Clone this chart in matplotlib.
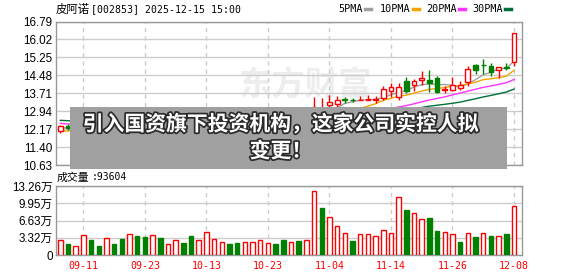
import matplotlib
matplotlib.use("Agg")
import matplotlib.pyplot as plt
import matplotlib.patheffects as pe
from matplotlib.patches import Rectangle
from matplotlib.lines import Line2D
import numpy as np
import pandas as pd

plt.rcParams['font.family'] = ['Liberation Sans', 'Noto Sans CJK SC']

#%% data (hidden candles estimated)
# closes of the 29 sessions before 09-08, only used to seed the moving averages
prior_close = [12.70, 12.85, 12.92, 12.80, 12.75, 12.88, 12.95, 12.78, 12.66, 12.72,
               12.80, 12.68, 12.75, 12.90, 12.82, 12.70, 12.78, 12.65, 12.60, 12.72,
               12.35, 12.10, 11.92, 11.78, 11.85, 12.02, 12.15, 12.28, 12.25]

opens = [12.08, 12.32, 12.20, 12.33, 12.60, 12.46, 12.36, 12.55, 12.45, 12.28,
         12.50, 12.38, 12.22, 12.42, 12.30, 12.40, 12.56, 12.48, 12.30, 12.42,
         12.60, 12.66, 12.74, 12.60, 12.50, 12.56, 12.60, 12.64, 12.70, 12.58,
         12.42, 12.52, 12.38, 12.50, 13.00, 13.21, 13.24, 13.45, 13.43, 13.43,
         13.43, 13.44, 13.50, 13.82, 13.57, 14.24, 14.07, 14.26, 14.28, 14.36,
         13.86, 13.85, 13.93, 14.19, 14.93, 14.93, 14.86, 14.72, 14.83, 15.05]
highs = [12.36, 12.38, 12.40, 12.70, 12.66, 12.50, 12.60, 12.58, 12.48, 12.55,
         12.55, 12.40, 12.45, 12.46, 12.48, 12.66, 12.62, 12.50, 12.46, 12.75,
         12.76, 12.80, 12.76, 12.64, 12.63, 12.68, 12.72, 12.78, 12.73, 12.60,
         12.58, 12.55, 12.50, 13.57, 13.51, 13.64, 13.60, 13.55, 13.51, 13.60,
         13.64, 13.60, 14.03, 14.17, 14.17, 14.40, 14.31, 14.68, 14.71, 14.43,
         14.03, 14.40, 14.24, 14.86, 14.95, 15.17, 15.02, 14.85, 15.00, 16.29]
lows = [12.02, 12.15, 12.12, 12.30, 12.40, 12.32, 12.33, 12.40, 12.25, 12.24,
        12.32, 12.18, 12.20, 12.26, 12.27, 12.38, 12.42, 12.28, 12.27, 12.40,
        12.55, 12.62, 12.55, 12.46, 12.47, 12.52, 12.57, 12.60, 12.52, 12.40,
        12.40, 12.35, 12.36, 12.45, 12.85, 13.14, 13.14, 13.28, 13.34, 13.42,
        13.42, 13.30, 13.43, 13.57, 13.43, 13.71, 13.82, 14.07, 13.78, 13.71,
        13.74, 13.82, 13.85, 14.00, 14.54, 14.54, 14.47, 14.36, 14.72, 14.90]
closes = [12.30, 12.22, 12.35, 12.58, 12.45, 12.38, 12.52, 12.44, 12.30, 12.48,
          12.36, 12.25, 12.40, 12.31, 12.42, 12.55, 12.47, 12.33, 12.41, 12.62,
          12.68, 12.72, 12.60, 12.52, 12.58, 12.63, 12.66, 12.70, 12.58, 12.45,
          12.52, 12.40, 12.46, 13.10, 13.06, 13.35, 13.43, 13.44, 13.42, 13.44,
          13.45, 13.47, 13.88, 13.97, 13.99, 13.82, 14.24, 14.36, 14.17, 13.78,
          13.88, 14.07, 14.06, 14.74, 14.72, 14.92, 14.62, 14.83, 14.81, 16.29]
volumes = [28800, 21100, 17300, 38400, 28800, 17300, 32000, 21100, 30700, 40400,
           36500, 34600, 38400, 32700, 21100, 28800, 23000, 36500, 28800, 44200,
           30700, 25000, 21100, 23000, 25000, 25000, 28800, 23000, 21100, 28800,
           25000, 26900, 28800, 123000, 90300, 73000, 55700, 42300, 26900, 40400,
           40400, 36500, 48000, 42300, 111500, 86500, 80700, 69200, 71100, 46100,
           44200, 40400, 25000, 42300, 34600, 42300, 36500, 36500, 40400, 93604]

date_ticks = [3, 11, 19, 27, 35, 43, 51, 59]
date_labels = ['09-11', '09-23', '10-13', '10-23', '11-04', '11-14', '11-26', '12-08']
price_ticks = [10.63, 11.40, 12.17, 12.94, 13.71, 14.48, 15.25, 16.02, 16.79]
vol_ticks = [0, 33150, 66300, 99450, 132600]
vol_labels = ['0', '3.32万', '6.63万', '9.95万', '13.26万']
ma_windows = [5, 10, 20, 30]
ma_names = ['5PMA', '10PMA', '20PMA', '30PMA']
ma_colors = ['#a0a0a0', '#f5a300', '#ff33ff', '#00703a']

RED = '#ff0000'
GREEN = '#008000'
GRID = '#cccccc'
W, H = 578, 276

#%%
o = np.array(opens); h = np.array(highs); l = np.array(lows); c = np.array(closes)
v = np.array(volumes)
x = np.arange(len(c))
prev = np.concatenate([[prior_close[-1]], c[:-1]])
up = (c > o) | ((c == o) & (c >= prev))
vol_up = c >= prev

fig = plt.figure(figsize=(W / 100, H / 100), dpi=100)
ax = fig.add_axes([56 / W, 1 - 165 / H, 466 / W, 143.5 / H])
axv = fig.add_axes([56 / W, 1 - 255 / H, 466 / W, 69 / H])

for a in (ax, axv):
    a.set_xlim(-0.56, 60.04)
    a.set_xticks(date_ticks)
    a.grid(axis='x', color=GRID, lw=1, ls=(0, (3, 3)))
    a.grid(axis='y', color=GRID, lw=1, ls='-')
    a.set_axisbelow(True)
    a.tick_params(length=0, pad=2.5, labelsize=8.4)
    for s in a.spines.values():
        s.set_color('#999999')
        s.set_linewidth(1)

# watermark
ax.text(0.535, 0.55, '东方财富', transform=ax.transAxes, ha='center', va='center',
        fontsize=24, color='#ededed', fontweight='bold', family='Noto Sans CJK SC', zorder=0)

# price panel
ax.set_ylim(price_ticks[0], price_ticks[-1])
ax.set_yticks(price_ticks)
ax.set_yticklabels(['%.2f' % t for t in price_ticks])
ax.tick_params(axis='x', labelbottom=False)

full = pd.Series(prior_close + closes)
for w, col in zip(ma_windows, ma_colors):
    ma = full.rolling(w).mean().iloc[len(prior_close):].values
    ax.plot(x, ma, color=col, lw=1, zorder=2)

bw = 0.62
body_lo = np.minimum(o, c)
body_hi = np.maximum(o, c)
body_h = np.maximum(body_hi - body_lo, 0.004)
# wicks
ax.vlines(x[~up], l[~up], h[~up], color=GREEN, lw=1, zorder=3)
ax.vlines(x[up], l[up], body_lo[up], color=RED, lw=1, zorder=3)
ax.vlines(x[up], body_hi[up], h[up], color=RED, lw=1, zorder=3)
ax.bar(x[up], body_h[up], bw, bottom=body_lo[up], facecolor='white', edgecolor=RED, lw=1, zorder=4)
ax.bar(x[~up], body_h[~up], bw, bottom=body_lo[~up], facecolor=GREEN, edgecolor=GREEN, lw=1, zorder=4)

# volume panel
axv.set_ylim(vol_ticks[0], vol_ticks[-1])
axv.set_yticks(vol_ticks)
axv.set_yticklabels(vol_labels)
axv.bar(x[vol_up], v[vol_up], 0.58, facecolor='white', edgecolor=RED, lw=1, zorder=3)
axv.bar(x[~vol_up], v[~vol_up], 0.58, facecolor=GREEN, edgecolor=GREEN, lw=1, zorder=3)
axv.set_xticklabels(date_labels, color=RED, family='DejaVu Sans Mono', fontsize=7.2)
axv.tick_params(axis='x', pad=4)

# header texts
fig.text(56 / W, 1 - 9 / H, '皮阿诺', family='Noto Sans CJK SC', fontsize=8.2, va='center')
fig.text(91 / W, 1 - 9 / H, '[002853] 2025-12-15 15:00', family='DejaVu Sans Mono',
         fontsize=7.1, va='center')
fig.text(57 / W, 1 - 177.5 / H, '成交量', family='Noto Sans CJK SC', fontsize=7.8, va='center')
fig.text(92 / W, 1 - 177.5 / H, ':93604', family='DejaVu Sans Mono', fontsize=7.0, va='center')

# legend
leg_x = [338, 380, 426, 472]
for name, col, lx in zip(ma_names, ma_colors, leg_x):
    fig.text(lx / W, 1 - 9 / H, name, family='DejaVu Sans Mono', fontsize=7.3, va='center')
    sx = lx + 6 * len(name) + 3
    fig.add_artist(Line2D([sx / W, (sx + 6) / W], [1 - 9 / H, 1 - 9 / H],
                          transform=fig.transFigure, color=col, lw=2.5))

# banner
fig.add_artist(Rectangle((70 / W, 1 - 169 / H), 437 / W, 62 / H, transform=fig.transFigure,
                         facecolor='#a0a0a0', edgecolor='none', zorder=10))
stroke = [pe.withStroke(linewidth=2.5, foreground='#2a2a2a')]
fig.text(281 / W, 1 - 124 / H, '引入国资旗下投资机构，这家公司实控人拟', ha='center', va='center',
         family='Noto Sans CJK SC', fontsize=15, fontweight='bold', color='white',
         path_effects=stroke, zorder=11)
fig.text(281 / W, 1 - 151 / H, '变更！', ha='center', va='center',
         family='Noto Sans CJK SC', fontsize=15, fontweight='bold', color='white',
         path_effects=stroke, zorder=11)

fig.savefig('out.png', dpi=100)
